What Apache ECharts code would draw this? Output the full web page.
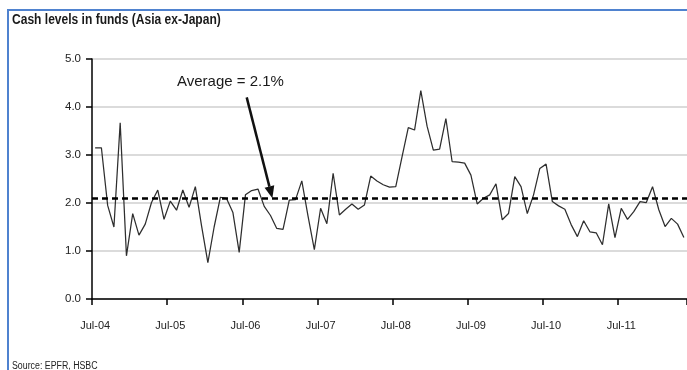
<!DOCTYPE html>
<html>
<head>
<meta charset="utf-8">
<script src="https://cdn.jsdelivr.net/npm/echarts@6/dist/echarts.min.js"></script>
<style>
  html, body { margin: 0; padding: 0; background: #ffffff; }
  #chart { width: 687px; height: 370px; }
</style>
</head>
<body>
<div id="chart"></div>
<script>
// Monthly axis, July 2004 to May 2012 (labels every July)
const monthNames = ['Jan','Feb','Mar','Apr','May','Jun','Jul','Aug','Sep','Oct','Nov','Dec'];
const startYear = 2004, startMonth = 6, monthCount = 95;
const months = [];
for (let k = 0; k < monthCount; k++) {
  const m = (startMonth + k) % 12;
  const y = startYear + Math.floor((startMonth + k) / 12);
  months.push(monthNames[m] + '-' + String(y % 100).padStart(2, '0'));
}

// Cash levels held by Asia ex-Japan funds, % of assets
const cashLevels = [
  3.15, 3.15, 1.95, 1.50, 3.67, 0.90, 1.78, 1.33, 1.56, 2.01, 2.27, 1.66,
  2.04, 1.85, 2.27, 1.91, 2.34, 1.52, 0.76, 1.50, 2.12, 2.09, 1.80, 0.97,
  2.17, 2.26, 2.29, 1.93, 1.74, 1.47, 1.45, 2.06, 2.07, 2.46, 1.72, 1.03,
  1.89, 1.57, 2.62, 1.75, 1.87, 1.98, 1.87, 1.96, 2.56, 2.46, 2.38, 2.33,
  2.34, 2.96, 3.57, 3.52, 4.34, 3.60, 3.10, 3.12, 3.76, 2.86, 2.85, 2.83,
  2.58, 1.98, 2.10, 2.17, 2.40, 1.65, 1.78, 2.55, 2.34, 1.78, 2.17, 2.72,
  2.81, 2.03, 1.94, 1.87, 1.55, 1.30, 1.63, 1.40, 1.38, 1.13, 1.98, 1.28,
  1.89, 1.66, 1.82, 2.03, 2.01, 2.34, 1.86, 1.51, 1.68, 1.56, 1.28
];

const averageCash = 2.1;
const yMin = 0, yMax = 5, yStep = 1;

// Arrow from the caption down to the average line: [month index, value]
const arrowTail = [24.2, 4.2];
const arrowHead = [28.3, averageCash];

const sans = '"Liberation Sans", Arial, sans-serif';
const isJuly = (idx) => idx % 12 === 0;

const chart = echarts.init(document.getElementById('chart'), null, { renderer: 'canvas' });

chart.setOption({
  animation: false,
  backgroundColor: '#ffffff',
  grid: { left: 92, top: 59, right: 0, height: 240, containLabel: false },
  xAxis: {
    type: 'category',
    data: months,
    boundaryGap: true,
    axisLine: { show: true, lineStyle: { color: '#000', width: 1.5 } },
    axisTick: { show: true, interval: (i) => isJuly(i), length: 6, lineStyle: { color: '#000', width: 1.5 } },
    axisLabel: {
      interval: (i) => isJuly(i),
      fontFamily: sans, fontSize: 11, color: '#222',
      margin: 21
    },
    splitLine: { show: false }
  },
  yAxis: {
    type: 'value',
    min: yMin, max: yMax, interval: yStep,
    axisLine: { show: true, lineStyle: { color: '#000', width: 1.5 } },
    axisTick: { show: true, length: 6, lineStyle: { color: '#000', width: 1.5 } },
    axisLabel: {
      formatter: (v) => v.toFixed(1),
      fontFamily: sans, fontSize: 11.5, color: '#222', margin: 11
    },
    splitLine: { show: true, lineStyle: { color: '#cfcfcf', width: 1.5 } }
  },
  series: [{
    type: 'line',
    data: cashLevels,
    symbol: 'none',
    lineStyle: { color: '#2e2e2e', width: 1.25 },
    z: 3,
    markLine: {
      silent: true,
      symbol: 'none',
      label: { show: false },
      lineStyle: { color: '#000', width: 2.5, type: [6, 4] },
      data: [{ yAxis: averageCash }]
    }
  }]
});

// Convert a (fractional month index, value) pair to pixels
function toPx(pt) {
  const i0 = Math.floor(pt[0]), f = pt[0] - i0;
  const a = chart.convertToPixel({ gridIndex: 0 }, [i0, pt[1]]);
  const b = chart.convertToPixel({ gridIndex: 0 }, [i0 + 1, pt[1]]);
  return [a[0] + (b[0] - a[0]) * f, a[1]];
}

const tail = toPx(arrowTail);
const head = toPx(arrowHead);
const dx = head[0] - tail[0], dy = head[1] - tail[1];
const len = Math.sqrt(dx * dx + dy * dy);
const ux = dx / len, uy = dy / len;
const headLen = 12, headHalf = 5;
const base = [head[0] - ux * headLen, head[1] - uy * headLen];

chart.setOption({
  graphic: [
    // Frame around the exhibit
    { type: 'rect', shape: { x: 7, y: 9, width: 2, height: 370 }, style: { fill: '#4f82cf' }, silent: true },
    { type: 'rect', shape: { x: 7, y: 9, width: 690, height: 2 }, style: { fill: '#4f82cf' }, silent: true },
    {
      type: 'text', x: 12, y: 13, scaleX: 0.86,
      style: { text: 'Cash levels in funds (Asia ex-Japan)', font: 'bold 14px ' + sans, fill: '#1a1a1a' }
    },
    {
      type: 'text', x: 12, y: 361, scaleX: 0.88,
      style: { text: 'Source: EPFR, HSBC', font: '10px ' + sans, fill: '#222' }
    },
    {
      type: 'text', x: 177, y: 74,
      style: { text: 'Average = 2.1%', font: '15px ' + sans, fill: '#1a1a1a' }
    },
    {
      type: 'line',
      shape: { x1: tail[0], y1: tail[1], x2: base[0], y2: base[1] },
      style: { stroke: '#111', lineWidth: 2.5 }
    },
    {
      type: 'polygon',
      shape: {
        points: [
          head,
          [base[0] - uy * headHalf, base[1] + ux * headHalf],
          [base[0] + uy * headHalf, base[1] - ux * headHalf]
        ]
      },
      style: { fill: '#111' }
    }
  ]
});
</script>
</body>
</html>
